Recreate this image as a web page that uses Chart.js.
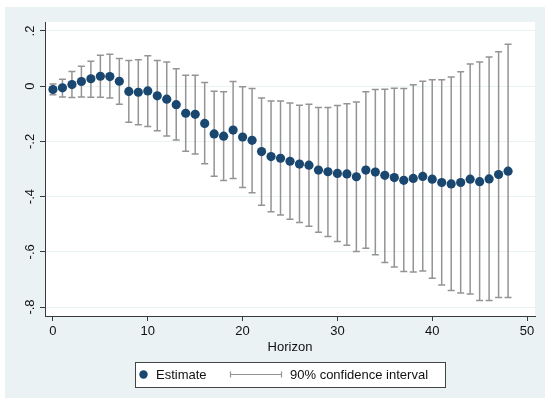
<!DOCTYPE html>
<html>
<head>
<meta charset="utf-8">
<title>Estimate by horizon</title>
<script src="https://cdn.jsdelivr.net/npm/chart.js@4.4.0/dist/chart.umd.min.js"></script>
<style>
  body { margin: 0; background: #fff; }
  canvas { display: block; }
</style>
</head>
<body>
<canvas id="irf" width="545" height="398"></canvas>
<script>
// values
const horizons = [0, 1, 2, 3, 4, 5, 6, 7, 8, 9, 10, 11, 12, 13, 14, 15, 16, 17, 18, 19,
    20, 21, 22, 23, 24, 25, 26, 27, 28, 29, 30, 31, 32, 33, 34, 35, 36, 37, 38, 39,
    40, 41, 42, 43, 44, 45, 46, 47, 48];
const estimate = [-0.012, -0.006, 0.006, 0.017, 0.027, 0.036, 0.035, 0.018, -0.019, -0.022,
    -0.017, -0.035, -0.047, -0.067, -0.098, -0.102, -0.135, -0.173, -0.181, -0.159,
    -0.184, -0.196, -0.237, -0.255, -0.261, -0.272, -0.282, -0.286, -0.304, -0.310,
    -0.316, -0.318, -0.328, -0.304, -0.311, -0.323, -0.331, -0.341, -0.334, -0.327,
    -0.337, -0.349, -0.354, -0.349, -0.337, -0.346, -0.336, -0.320, -0.308];
const ciUpper = [0.008, 0.025, 0.053, 0.072, 0.090, 0.112, 0.116, 0.100, 0.093, 0.096,
    0.110, 0.093, 0.088, 0.063, 0.040, 0.040, 0.013, -0.018, -0.020, 0.017,
    -0.002, -0.008, -0.043, -0.054, -0.054, -0.061, -0.069, -0.065, -0.077, -0.077,
    -0.070, -0.064, -0.057, -0.020, -0.012, -0.011, -0.007, -0.008, 0.005, 0.018,
    0.023, 0.023, 0.033, 0.052, 0.080, 0.088, 0.106, 0.125, 0.152];
const ciLower = [-0.031, -0.039, -0.041, -0.039, -0.040, -0.040, -0.043, -0.065, -0.131, -0.140,
    -0.146, -0.161, -0.180, -0.195, -0.236, -0.246, -0.281, -0.326, -0.342, -0.334,
    -0.367, -0.386, -0.431, -0.455, -0.467, -0.482, -0.494, -0.507, -0.529, -0.545,
    -0.563, -0.576, -0.599, -0.587, -0.611, -0.639, -0.655, -0.671, -0.673, -0.670,
    -0.696, -0.720, -0.740, -0.749, -0.753, -0.776, -0.776, -0.766, -0.766];

const xTicks = [0, 10, 20, 30, 40, 50];
const yTicks = [-0.8, -0.6, -0.4, -0.2, 0, 0.2];
const yTickLabels = ['-.8', '-.6', '-.4', '-.2', '0', '.2'];
const seriesNames = ['Estimate', '90% confidence interval'];
const xTitle = 'Horizon';

// colours (stata s2color look)
const bgBlue = '#eaf2f3';
const dotColor = '#1a476f';
const ciColor = '#949494';
const axisColor = '#3a3a3a';
const textColor = '#111';
const fontFamily = "Arial, 'Liberation Sans', sans-serif";

const stataLook = {
    id: 'stataLook',
    beforeDraw(chart) {
        const ctx = chart.ctx;
        const a = chart.chartArea;
        ctx.save();
        ctx.fillStyle = '#fff';
        ctx.fillRect(0, 0, chart.width, chart.height);
        ctx.fillStyle = bgBlue;
        ctx.fillRect(5, 7, chart.width - 5, chart.height - 7);
        ctx.fillStyle = '#fff';
        ctx.fillRect(a.left, a.top, a.right - a.left, a.bottom - a.top);
        ctx.restore();
    },
    beforeDatasetsDraw(chart) {
        // confidence interval whiskers
        const ctx = chart.ctx;
        const xs = chart.scales.x;
        const ys = chart.scales.y;
        ctx.save();
        ctx.strokeStyle = ciColor;
        ctx.lineWidth = 1.5;
        horizons.forEach(function (h, i) {
            const x = xs.getPixelForValue(h);
            const top = ys.getPixelForValue(ciUpper[i]);
            const bot = ys.getPixelForValue(ciLower[i]);
            ctx.beginPath();
            ctx.moveTo(x, top);
            ctx.lineTo(x, bot);
            ctx.moveTo(x - 3.5, top);
            ctx.lineTo(x + 3.5, top);
            ctx.moveTo(x - 3.5, bot);
            ctx.lineTo(x + 3.5, bot);
            ctx.stroke();
        });
        ctx.restore();
    },
    afterDraw(chart) {
        const ctx = chart.ctx;
        const ys = chart.scales.y;
        const a = chart.chartArea;
        ctx.save();
        ctx.fillStyle = textColor;
        ctx.font = '13px ' + fontFamily;

        // y tick labels, turned like stata does
        ctx.textAlign = 'center';
        ctx.textBaseline = 'middle';
        yTicks.forEach(function (v, i) {
            ctx.save();
            ctx.translate(30, ys.getPixelForValue(v));
            ctx.rotate(-Math.PI / 2);
            ctx.fillText(yTickLabels[i], 0, 0);
            ctx.restore();
        });

        // x axis title
        ctx.fillText(xTitle, (a.left + a.right) / 2, 347);

        // legend box
        ctx.fillStyle = '#fff';
        ctx.fillRect(135, 362, 310, 25);
        ctx.strokeStyle = '#444';
        ctx.lineWidth = 1;
        ctx.strokeRect(135.5, 362.5, 310, 25);

        ctx.fillStyle = dotColor;
        ctx.beginPath();
        ctx.arc(143.5, 374.5, 4.2, 0, Math.PI * 2);
        ctx.fill();

        ctx.strokeStyle = ciColor;
        ctx.lineWidth = 1.2;
        ctx.beginPath();
        ctx.moveTo(230, 374.5);
        ctx.lineTo(282, 374.5);
        ctx.moveTo(230.5, 371.5);
        ctx.lineTo(230.5, 377.5);
        ctx.moveTo(281.5, 371.5);
        ctx.lineTo(281.5, 377.5);
        ctx.stroke();

        ctx.fillStyle = textColor;
        ctx.textAlign = 'left';
        ctx.fillText(seriesNames[0], 156, 375);
        ctx.fillText(seriesNames[1], 290, 375);
        ctx.restore();
    }
};

const ctx = document.getElementById('irf').getContext('2d');
const irfChart = new Chart(ctx, {
    type: 'scatter',
    data: {
        datasets: [{
            label: seriesNames[0],
            data: horizons.map(function (h, i) { return { x: h, y: estimate[i] }; }),
            backgroundColor: dotColor,
            borderWidth: 0,
            pointRadius: 4.6,
            pointHoverRadius: 4.6
        }]
    },
    options: {
        responsive: false,
        animation: false,
        devicePixelRatio: 1,
        layout: { padding: { left: 0, right: 10, top: 22, bottom: 0 } },
        plugins: {
            legend: { display: false },
            tooltip: { enabled: false }
        },
        scales: {
            x: {
                type: 'linear',
                min: -0.84,
                max: 50.84,
                afterBuildTicks: function (s) { s.ticks = xTicks.map(function (v) { return { value: v }; }); },
                afterFit: function (s) { s.height = 82; },
                grid: { drawOnChartArea: false, tickLength: 5, tickColor: axisColor, tickWidth: 1 },
                border: { color: axisColor, width: 1 },
                ticks: { padding: 3, color: textColor, maxRotation: 0, font: { family: fontFamily, size: 13 } }
            },
            y: {
                type: 'linear',
                min: -0.8326,
                max: 0.2326,
                afterBuildTicks: function (s) { s.ticks = yTicks.map(function (v) { return { value: v }; }); },
                afterFit: function (s) { s.width = 45; },
                grid: { color: bgBlue, lineWidth: 1, tickLength: 5, tickColor: axisColor, tickWidth: 1 },
                border: { color: axisColor, width: 1 },
                ticks: { display: false }
            }
        }
    },
    plugins: [stataLook]
});
</script>
</body>
</html>
